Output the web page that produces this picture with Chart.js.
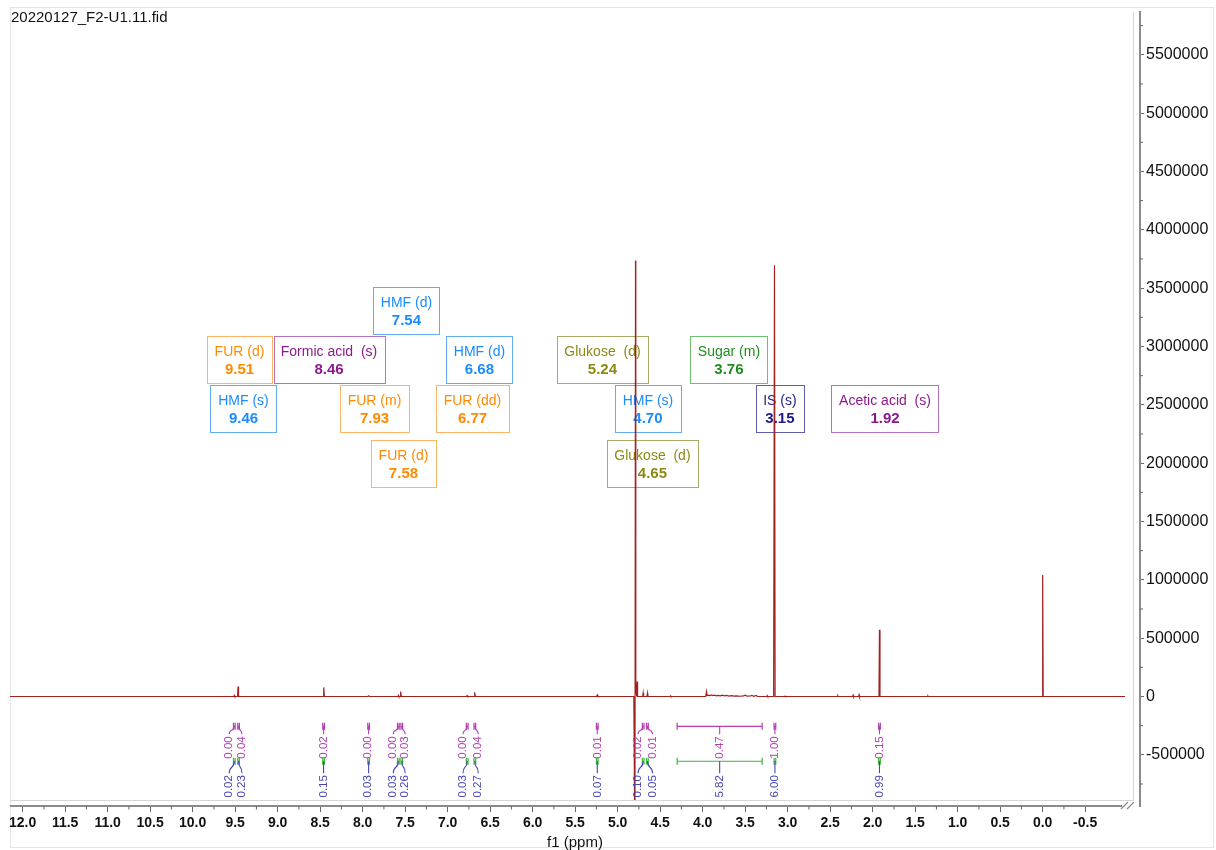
<!DOCTYPE html>
<html>
<head>
<meta charset="utf-8">
<title>20220127_F2-U1.11.fid</title>
<script src="https://cdn.jsdelivr.net/npm/chart.js@4/dist/chart.umd.min.js"></script>
<style>
  html, body { margin: 0; padding: 0; background: #ffffff; }
  #wrap { position: relative; width: 1216px; height: 850px; }
  canvas { display: block; }
</style>
</head>
<body>
<div id="wrap"><canvas id="spectrum" width="1216" height="850"></canvas></div>
<script>
// ---- 1H NMR spectrum (chemical shift in ppm, intensity) ----
const shiftPpm = [
  12.15,
  9.515, 9.510, 9.505,
  9.472, 9.466, 9.460,
  8.466, 8.458, 8.450,
  7.940, 7.930, 7.920,
  7.585, 7.580, 7.575, 7.560, 7.553, 7.545,
  6.780, 6.772, 6.765, 6.690, 6.682, 6.675,
  5.250, 5.243, 5.237, 5.232, 5.226,
  4.810, 4.797, 4.790, 4.788, 4.787, 4.785, 4.776, 4.771, 4.766,
  4.705, 4.700, 4.695,
  4.655, 4.650, 4.645,
  4.385, 4.380, 4.375,
  3.965, 3.955, 3.948, 3.930, 3.915, 3.900, 3.880, 3.860, 3.840, 3.820, 3.790, 3.770,
  3.740, 3.720, 3.690, 3.660, 3.630, 3.600, 3.560, 3.520, 3.500, 3.480, 3.440, 3.420,
  3.400, 3.370, 3.355, 3.300,
  3.245, 3.240, 3.235,
  3.165, 3.155, 3.148,
  3.035, 3.030, 3.025,
  2.415, 2.410, 2.405,
  2.235, 2.230, 2.225,
  2.165, 2.160, 2.155,
  1.926, 1.920, 1.914,
  1.355, 1.350, 1.345,
  0.006, 0.000, -0.006,
  -0.97
];
const intensity = [
  0,
  0, 9000, 0,
  0, 85000, 0,
  0, 78000, 0,
  0, 6000, 0,
  0, 9000, 0, 0, 42000, 0,
  0, 8000, 0, 0, 36000, 0,
  0, 8000, 0, 10000, 0,
  0, -1300000, 3737000, 740000, 1035000, 60000, 0, 128000, 0,
  0, 30000, 0,
  0, 28000, 0,
  0, 6000, 0,
  0, 42000, 8000, 12000, 6000, 14000, 8000, 12000, 6000, 10000, 5000, 12000,
  6000, 9000, 4000, 8000, 3000, 6000, 2000, 5000, 12000, 3000, 4000, 10000,
  2000, 9000, 1000, 0,
  0, 7000, 0,
  0, 3695000, 0,
  0, 4000, 0,
  0, 7000, 0,
  0, 11000, 0,
  0, 14000, 0,
  0, 572000, 0,
  0, 5000, 0,
  0, 1041000, 0,
  0
];

// ---- axis ticks ----
const xTickValues = [12.0, 11.5, 11.0, 10.5, 10.0, 9.5, 9.0, 8.5, 8.0, 7.5, 7.0, 6.5, 6.0,
                     5.5, 5.0, 4.5, 4.0, 3.5, 3.0, 2.5, 2.0, 1.5, 1.0, 0.5, 0.0, -0.5];
const yTickValues = [-500000, 0, 500000, 1000000, 1500000, 2000000, 2500000, 3000000,
                     3500000, 4000000, 4500000, 5000000, 5500000];

// ---- peak assignments ----
const peakNames  = ['HMF (d)', 'FUR (d)', 'Formic acid  (s)', 'HMF (d)', 'Glukose  (d)', 'Sugar (m)',
                    'HMF (s)', 'FUR (m)', 'FUR (dd)', 'HMF (s)', 'IS (s)', 'Acetic acid  (s)',
                    'FUR (d)', 'Glukose  (d)'];
const peakShifts = ['7.54', '9.51', '8.46', '6.68', '5.24', '3.76',
                    '9.46', '7.93', '6.77', '4.70', '3.15', '1.92',
                    '7.58', '4.65'];
const peakGroups = ['HMF', 'FUR', 'acid', 'HMF', 'Glukose', 'Sugar',
                    'HMF', 'FUR', 'FUR', 'HMF', 'IS', 'acid',
                    'FUR', 'Glukose'];

// ---- integrals ----
const integralFrom  = [9.52, 9.47, 8.47, 7.94, 7.59, 7.55, 6.78, 6.69, 5.25, 4.71, 4.66, 4.30, 3.16, 1.93];
const integralTo    = [9.50, 9.45, 8.45, 7.92, 7.57, 7.53, 6.76, 6.67, 5.23, 4.69, 4.64, 3.30, 3.14, 1.91];
const integralUpper = ['0.00', '0.04', '0.02', '0.00', '0.00', '0.03', '0.00', '0.04', '0.01', '0.02', '0.01', '0.47', '1.00', '0.15'];
const integralLower = ['0.02', '0.23', '0.15', '0.03', '0.03', '0.26', '0.03', '0.27', '0.07', '0.10', '0.05', '5.82', '6.00', '0.99'];

// ---- annotation layout (in axis units) ----
const boxCentrePpm = [7.485, 9.449, 8.396, 6.626, 5.179, 3.691,
                      9.402, 7.861, 6.708, 4.644, 3.091, 1.855,
                      7.520, 4.591];
const boxRowLevel  = [3306000, 2888000, 2888000, 2888000, 2888000, 2888000,
                      2470000, 2470000, 2470000, 2470000, 2470000, 2470000,
                      2001000, 2001000];
const integralLabelPpm = [9.57, 9.42, 8.46, 7.94, 7.64, 7.50, 6.82, 6.64, 5.23, 4.76, 4.59, 3.80, 3.15, 1.92];
const integralLevels = { upperBar: -256000, upperText: -437000, lowerBar: -555000, lowerText: -770000 };

const groupStyle = {
  HMF:     { text: '#1a8cff', border: '#62aef5' },
  FUR:     { text: '#ff8a00', border: '#ffb566' },
  acid:    { text: '#8c1a8c', border: '#b572c2' },
  Glukose: { text: '#8a8a14', border: '#aaaa66' },
  Sugar:   { text: '#1e8f1e', border: '#70c070' },
  IS:      { text: '#1a1a8c', border: '#5e5eb2' }
};
const integralColours = { upper: '#b33db3', bar2: '#3fb43f', lower: '#4646b4' };

const FONT = "'Liberation Sans', Arial, Helvetica, sans-serif";

// frame around the plot and around the whole figure
const framePlugin = {
  id: 'frame',
  beforeDraw(chart) {
    const { ctx, chartArea: a } = chart;
    ctx.save();
    ctx.fillStyle = '#ffffff';
    ctx.fillRect(0, 0, chart.width, chart.height);
    ctx.strokeStyle = '#e4e4e4';
    ctx.lineWidth = 1;
    ctx.strokeRect(10.5, 7.5, chart.width - 13, chart.height - 10);
    ctx.strokeStyle = '#d6d6d6';
    ctx.beginPath();
    ctx.moveTo(a.left, a.bottom - 5.5);
    ctx.lineTo(a.right - 6.5, a.bottom - 5.5);
    ctx.lineTo(a.right - 6.5, a.top);
    ctx.stroke();
    ctx.fillStyle = '#111111';
    ctx.font = '15px ' + FONT;
    ctx.textBaseline = 'middle';
    ctx.textAlign = 'left';
    ctx.fillText('20220127_F2-U1.11.fid', 11, 18);
    ctx.restore();
  }
};

// assignment boxes
const boxPlugin = {
  id: 'assignments',
  beforeDatasetsDraw(chart) {
    const { ctx, scales: { x, y } } = chart;
    ctx.save();
    ctx.textAlign = 'center';
    ctx.textBaseline = 'middle';
    for (let i = 0; i < peakNames.length; i++) {
      const st = groupStyle[peakGroups[i]];
      const cx = x.getPixelForValue(boxCentrePpm[i]);
      const cy = y.getPixelForValue(boxRowLevel[i]);
      ctx.font = '14px ' + FONT;
      const w1 = ctx.measureText(peakNames[i]).width;
      ctx.font = 'bold 15px ' + FONT;
      const w2 = ctx.measureText(peakShifts[i]).width;
      const w = Math.round(Math.max(w1, w2) + 15);
      const h = 47;
      const left = Math.round(cx - w / 2) + 0.5, top = Math.round(cy - h / 2) + 0.5;
      ctx.strokeStyle = st.border;
      ctx.lineWidth = 1;
      ctx.strokeRect(left, top, w, h);
      ctx.fillStyle = st.text;
      ctx.font = '14px ' + FONT;
      ctx.fillText(peakNames[i], cx, top + 16);
      ctx.font = 'bold 15px ' + FONT;
      ctx.fillText(peakShifts[i], cx, top + 33);
    }
    ctx.restore();
  }
};

// integral bars and values under the baseline
function drawBar(ctx, x0, x1, yb, colour) {
  ctx.strokeStyle = colour;
  ctx.lineWidth = 1.2;
  ctx.beginPath();
  ctx.moveTo(x0, yb); ctx.lineTo(x1, yb);
  ctx.moveTo(x0, yb - 3.5); ctx.lineTo(x0, yb + 3.5);
  ctx.moveTo(x1, yb - 3.5); ctx.lineTo(x1, yb + 3.5);
  ctx.stroke();
}
function drawLeader(ctx, xs, ys, xe, ye, colour) {
  ctx.strokeStyle = colour;
  ctx.lineWidth = 1.1;
  ctx.beginPath();
  ctx.moveTo(xs, ys);
  if (Math.abs(xe - xs) < 1.5) {
    ctx.lineTo(xs, ye);
  } else {
    const ym = (ys + ye) / 2;
    ctx.bezierCurveTo(xs, ym + 2, xe, ym - 2, xe, ye);
  }
  ctx.stroke();
}
function drawVertical(ctx, text, xc, yc, colour) {
  ctx.save();
  ctx.translate(xc, yc);
  ctx.rotate(-Math.PI / 2);
  ctx.fillStyle = colour;
  ctx.textAlign = 'center';
  ctx.textBaseline = 'middle';
  ctx.fillText(text, 0, 0);
  ctx.restore();
}
const integralPlugin = {
  id: 'integrals',
  afterDatasetsDraw(chart) {
    const { ctx, scales: { x, y } } = chart;
    const yA = y.getPixelForValue(integralLevels.upperBar);
    const yAt = y.getPixelForValue(integralLevels.upperText);
    const yB = y.getPixelForValue(integralLevels.lowerBar);
    const yBt = y.getPixelForValue(integralLevels.lowerText);
    ctx.save();
    ctx.font = '11.5px ' + FONT;
    for (let i = 0; i < integralFrom.length; i++) {
      const x0 = x.getPixelForValue(integralFrom[i]);
      const x1 = x.getPixelForValue(integralTo[i]);
      const xc = (x0 + x1) / 2;
      const xl = x.getPixelForValue(integralLabelPpm[i]);
      const wa = ctx.measureText(integralUpper[i]).width;
      const wb = ctx.measureText(integralLower[i]).width;
      drawBar(ctx, x0, x1, yA, integralColours.upper);
      drawLeader(ctx, xc, yA, xl, yAt - wa / 2 - 2, integralColours.upper);
      drawVertical(ctx, integralUpper[i], xl, yAt, integralColours.upper);
      drawBar(ctx, x0, x1, yB, integralColours.bar2);
      drawLeader(ctx, xc, yB, xl, yBt - wb / 2 - 2, integralColours.lower);
      drawVertical(ctx, integralLower[i], xl, yBt, integralColours.lower);
    }
    ctx.restore();
  }
};

// minor ticks and axis break marks
const axisPlugin = {
  id: 'axisDecor',
  afterDraw(chart) {
    const { ctx, chartArea: a, scales: { x, y } } = chart;
    ctx.save();
    ctx.strokeStyle = '#8a8a8a';
    ctx.lineWidth = 2;
    // x axis line
    ctx.beginPath();
    ctx.moveTo(a.left, a.bottom);
    ctx.lineTo(a.right - 18, a.bottom);
    ctx.stroke();
    ctx.lineWidth = 1;
    ctx.strokeStyle = '#666666';
    ctx.beginPath();
    for (let i = 0; i < xTickValues.length; i++) {
      const px = x.getPixelForValue(xTickValues[i] + 0.25);
      if (px > a.left && px < a.right - 18) { ctx.moveTo(px, a.bottom); ctx.lineTo(px, a.bottom + 3.5); }
    }
    for (let i = 0; i < yTickValues.length; i++) {
      const py = y.getPixelForValue(yTickValues[i] + 250000);
      if (py > a.top) { ctx.moveTo(a.right, py); ctx.lineTo(a.right + 3, py); }
    }
    const pyLow = y.getPixelForValue(yTickValues[0] - 250000);
    ctx.moveTo(a.right, pyLow); ctx.lineTo(a.right + 3, pyLow);
    ctx.stroke();
    // break marks
    ctx.strokeStyle = '#8a8a8a';
    ctx.lineWidth = 1.2;
    ctx.beginPath();
    ctx.moveTo(a.right - 19, a.bottom + 3); ctx.lineTo(a.right - 12, a.bottom - 4);
    ctx.moveTo(a.right - 13, a.bottom + 3); ctx.lineTo(a.right - 6, a.bottom - 4);
    ctx.stroke();
    ctx.restore();
  }
};

const points = shiftPpm.map((p, i) => ({ x: p, y: intensity[i] }));

new Chart(document.getElementById('spectrum'), {
  type: 'line',
  data: {
    datasets: [{
      data: points,
      borderColor: '#a2201f',
      borderWidth: 1.2,
      pointRadius: 0,
      tension: 0,
      fill: false,
      clip: { left: 0, top: 0, right: -7, bottom: -6 }
    }]
  },
  options: {
    responsive: false,
    animation: false,
    devicePixelRatio: 1,
    layout: { padding: { left: 10, top: 8, right: 0, bottom: 0 } },
    plugins: { legend: { display: false }, tooltip: { enabled: false }, title: { display: false } },
    scales: {
      x: {
        type: 'linear',
        reverse: true,
        min: -1.145,
        max: 12.149,
        afterBuildTicks: (s) => { s.ticks = xTickValues.map(v => ({ value: v })); },
        afterFit: (s) => { s.height = 44; },
        border: { display: false },
        grid: { drawOnChartArea: false, drawTicks: true, tickLength: 6, tickColor: '#666666', tickWidth: 1 },
        ticks: {
          autoSkip: false, maxRotation: 0, padding: 3, color: '#111111',
          font: { family: FONT, size: 14, weight: 'bold', lineHeight: 1.2 },
          callback: (v) => Number(v).toFixed(1)
        },
        title: {
          display: true, text: 'f1 (ppm)', color: '#111111',
          font: { family: FONT, size: 15, lineHeight: 1.0 },
          padding: { top: 0, bottom: 0 }
        }
      },
      y: {
        type: 'linear',
        position: 'right',
        min: -938600,
        max: 5870000,
        afterBuildTicks: (s) => { s.ticks = yTickValues.map(v => ({ value: v })); },
        afterFit: (s) => { s.width = 76; },
        border: { display: true, color: '#8a8a8a', width: 2 },
        grid: { drawOnChartArea: false, drawTicks: true, tickLength: 4, tickColor: '#666666' },
        ticks: {
          padding: 2, color: '#111111',
          font: { family: FONT, size: 16 },
          callback: (v) => String(v)
        }
      }
    }
  },
  plugins: [framePlugin, boxPlugin, integralPlugin, axisPlugin]
});
</script>
</body>
</html>
